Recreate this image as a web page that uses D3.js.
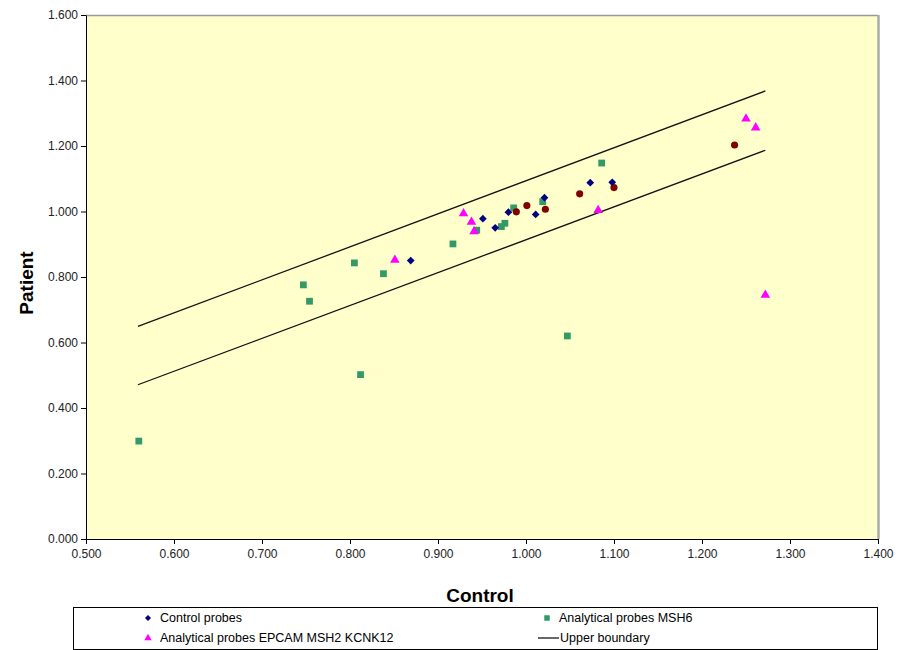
<!DOCTYPE html>
<html>
<head>
<meta charset="utf-8">
<script src="https://cdn.jsdelivr.net/npm/d3@7"></script>
<style>
  body { margin: 0; background: #fff; }
  text { font-family: "Liberation Sans", Arial, sans-serif; }
  .tick text { font-size: 12px; fill: #222; }
  .title { font-size: 19px; font-weight: bold; }
  .legend text { font-size: 12.5px; }
</style>
</head>
<body>
<div id="chart"></div>
<script>
let canvasWidth = 904;
let canvasHeight = 650;

// axis ticks
let xTicks = [0.5, 0.6, 0.7, 0.8, 0.9, 1.0, 1.1, 1.2, 1.3, 1.4];
let yTicks = [0, 0.2, 0.4, 0.6, 0.8, 1.0, 1.2, 1.4, 1.6];

// control probes (diamonds)
let controlX = [0.869, 0.951, 0.965, 0.980, 1.011, 1.021, 1.073, 1.098];
let controlY = [0.850, 0.978, 0.950, 0.998, 0.991, 1.042, 1.088, 1.089];

// analytical probes MSH6 (squares)
let msh6X = [0.560, 0.747, 0.754, 0.805, 0.812, 0.838, 0.917, 0.944, 0.972, 0.976, 0.986, 1.019, 1.047, 1.086];
let msh6Y = [0.299, 0.776, 0.726, 0.843, 0.502, 0.810, 0.901, 0.943, 0.954, 0.964, 1.011, 1.030, 0.620, 1.148];

// analytical probes EPCAM MSH2 KCNK12 (triangles)
let epcamX = [0.851, 0.929, 0.938, 0.941, 1.082, 1.250, 1.261, 1.272];
let epcamY = [0.852, 0.994, 0.968, 0.939, 1.004, 1.283, 1.256, 0.745];

// fourth probe set (circles, not in the visible legend)
let otherX = [0.989, 1.001, 1.022, 1.061, 1.100, 1.237];
let otherY = [0.999, 1.018, 1.007, 1.054, 1.073, 1.203];

// boundaries
let upperX = [0.559, 1.272];
let upperY = [0.649, 1.368];
let lowerX = [0.559, 1.272];
let lowerY = [0.471, 1.187];

let plotLeft = 86, plotRight = 878, plotTop = 15, plotBottom = 539;

let svg = d3.select("div#chart")
    .append("svg")
    .attr("width", canvasWidth)
    .attr("height", canvasHeight);

let xScale = d3.scaleLinear().domain([0.5, 1.4]).range([plotLeft, plotRight]);
let yScale = d3.scaleLinear().domain([0, 1.6]).range([plotBottom, plotTop]);

// plot area background + frame
svg.append("rect")
    .attr("x", plotLeft).attr("y", plotTop)
    .attr("width", plotRight - plotLeft).attr("height", plotBottom - plotTop)
    .attr("fill", "#ffffcc");
svg.append("line")
    .attr("x1", plotLeft).attr("x2", plotRight).attr("y1", plotTop + 0.5).attr("y2", plotTop + 0.5)
    .attr("stroke", "#999").attr("stroke-width", 1.5);
svg.append("line")
    .attr("x1", plotRight + 0.5).attr("x2", plotRight + 0.5).attr("y1", plotTop).attr("y2", plotBottom)
    .attr("stroke", "#aaa").attr("stroke-width", 2.5);

// axes
let fmt = d3.format(".3f");
svg.append("g")
    .attr("transform", "translate(0," + plotBottom + ")")
    .call(d3.axisBottom(xScale).tickValues(xTicks).tickFormat(fmt).tickSize(5).tickSizeOuter(0))
    .call(g => g.selectAll("text").attr("dy", "0.95em"))
    .call(g => g.selectAll("line, path").attr("stroke", "#000"));

svg.append("g")
    .attr("transform", "translate(" + plotLeft + ",0)")
    .call(d3.axisLeft(yScale).tickValues(yTicks).tickFormat(fmt).tickSize(5).tickSizeOuter(0))
    .call(g => g.selectAll("text").attr("x", -8))
    .call(g => g.selectAll("line, path").attr("stroke", "#000"));

// axis titles
svg.append("text")
    .attr("class", "title")
    .attr("text-anchor", "middle")
    .attr("transform", "translate(" + 33 + ", " + 283 + ") rotate(270)")
    .text("Patient");

svg.append("text")
    .attr("class", "title")
    .attr("text-anchor", "middle")
    .attr("x", 480).attr("y", 602)
    .text("Control");

// boundary lines
let line = d3.line().x(d => xScale(d[0])).y(d => yScale(d[1]));
let container = svg.append("g");
[[upperX, upperY], [lowerX, lowerY]].forEach(b => {
    container.append("path")
        .datum(d3.zip(b[0], b[1]))
        .attr("fill", "none")
        .attr("stroke", "#111")
        .attr("stroke-width", 1.3)
        .attr("d", line);
});

// point series
let series = [
    { xs: msh6X, ys: msh6Y, type: d3.symbolSquare, size: 46, color: "#339966", rot: 0 },
    { xs: otherX, ys: otherY, type: d3.symbolCircle, size: 40, color: "#800000", rot: 0 },
    { xs: controlX, ys: controlY, type: d3.symbolSquare, size: 30, color: "#000080", rot: 45 },
    { xs: epcamX, ys: epcamY, type: d3.symbolTriangle, size: 40, color: "#ff00ff", rot: 0 }
];

series.forEach(s => {
    container.append("g")
        .selectAll("path")
        .data(d3.zip(s.xs, s.ys))
        .join("path")
        .attr("d", d3.symbol().type(s.type).size(s.size))
        .attr("fill", s.color)
        .attr("transform", d => "translate(" + xScale(d[0]) + "," + yScale(d[1]) + ") rotate(" + s.rot + ")");
});

// legend
let legend = svg.append("g").attr("class", "legend");
legend.append("rect")
    .attr("x", 73.5).attr("y", 607.5)
    .attr("width", 804).attr("height", 42)
    .attr("fill", "#fff").attr("stroke", "#000");

let legendItems = [
    { label: "Control probes", x: 148, y: 618, type: d3.symbolSquare, size: 18, color: "#000080", rot: 45 },
    { label: "Analytical probes MSH6", x: 547, y: 618, type: d3.symbolSquare, size: 30, color: "#339966", rot: 0 },
    { label: "Analytical probes EPCAM MSH2 KCNK12", x: 148, y: 638, type: d3.symbolTriangle, size: 24, color: "#ff00ff", rot: 0 },
    { label: "Upper boundary", x: 548, y: 638, type: null, color: "#000" }
];

legendItems.forEach(it => {
    if (it.type) {
        legend.append("path")
            .attr("d", d3.symbol().type(it.type).size(it.size))
            .attr("fill", it.color)
            .attr("transform", "translate(" + it.x + "," + it.y + ") rotate(" + it.rot + ")");
    } else {
        legend.append("line")
            .attr("x1", it.x - 10).attr("x2", it.x + 11)
            .attr("y1", it.y).attr("y2", it.y)
            .attr("stroke", it.color).attr("stroke-width", 1.2);
    }
    legend.append("text")
        .attr("x", it.x + 12).attr("y", it.y)
        .attr("dy", "0.35em")
        .text(it.label);
});
</script>
</body>
</html>
